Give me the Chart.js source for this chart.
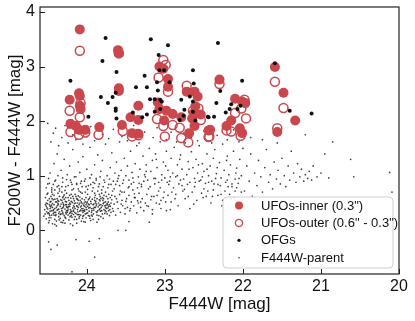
<!DOCTYPE html>
<html lang="en">
<head>
  <meta charset="UTF-8">
  <title>F200W - F444W vs F444W</title>
  <script src="https://cdn.jsdelivr.net/npm/chart.js"></script>
  <style>
    html, body { margin: 0; padding: 0; background: #fff; }
  </style>
</head>
<body>
  <canvas id="myChart" width="415" height="321"></canvas>

  <script>
    // tick values
    const xTicks = [20, 21, 22, 23, 24];
    const yTicks = [0, 1, 2, 3, 4];

    // UFOs, inner aperture (0.3") : [F444W, F200W - F444W]
    const ufoInner = [
      [24.09,3.68],[24.22,2.39],[24.10,2.51],[24.09,2.46],[24.09,2.28],[24.08,2.22],[24.21,1.95],
      [24.14,1.91],[24.10,1.84],[24.02,1.84],[23.84,1.89],[23.60,3.30],[23.59,3.25],[23.59,2.60],
      [23.59,2.55],[23.55,1.93],[23.44,2.07],[23.34,2.28],[23.34,2.02],[23.42,1.78],[23.34,1.77],
      [23.07,3.00],[23.02,2.96],[22.96,2.77],[22.96,2.63],[23.09,2.34],[23.07,2.22],[22.98,2.19],
      [23.01,2.01],[22.90,2.13],[22.79,2.07],[22.72,2.54],[22.62,2.54],[22.58,2.45],[22.61,2.27],
      [22.63,2.15],[22.54,2.12],[22.65,2.05],[22.69,1.78],[22.62,1.91],[22.44,1.83],[22.30,2.76],
      [22.10,2.41],[22.01,2.36],[21.97,2.33],[22.15,2.01],[22.21,1.91],[22.04,1.87],[22.01,1.78],
      [22.42,1.84],[21.59,2.99],[21.48,2.52],[21.33,2.01],[21.56,1.80]
    ];

    // UFOs, outer annulus (0.6" - 0.3")
    const ufoOuter = [
      [24.09,3.29],[24.22,2.19],[24.08,2.33],[24.09,2.07],[24.21,1.80],[24.10,1.75],[24.02,1.79],
      [23.85,1.75],[23.59,3.24],[23.54,1.82],[23.42,1.72],[23.34,1.74],[23.10,2.04],[23.08,2.80],
      [23.02,3.12],[22.99,3.03],[22.96,2.54],[23.02,1.91],[23.00,1.72],[22.90,1.93],[22.81,1.88],
      [22.79,1.69],[22.72,2.65],[22.70,1.61],[22.64,2.19],[22.57,2.23],[22.54,2.02],[22.44,1.71],
      [22.30,2.68],[22.10,2.15],[22.02,2.23],[21.96,2.05],[22.21,1.83],[22.15,1.81],[22.43,1.72],
      [22.03,1.73],[21.98,2.39],[21.59,2.72],[21.48,2.24],[21.56,1.87]
    ];

    // OFGs
    const ofgs = [
      [23.76,3.52],[24.21,2.74],[23.80,3.10],[23.82,2.44],[23.98,2.08],[23.73,2.33],[23.67,2.44],
      [23.63,2.52],[23.63,2.23],[23.63,2.19],[23.62,2.90],[23.62,2.05],[23.41,2.16],[23.37,2.62],
      [23.29,2.07],[23.26,2.83],[23.23,2.62],[23.23,2.12],[23.18,3.50],[23.19,2.40],[23.13,2.40],
      [23.08,3.21],[23.10,2.71],[23.09,2.56],[23.13,2.17],[23.06,2.39],[23.04,2.36],[23.06,2.22],
      [23.07,2.93],[23.01,2.93],[22.96,3.39],[22.94,2.71],[22.79,2.39],[22.81,2.02],[22.75,2.21],
      [22.76,2.10],[22.68,2.45],[22.64,2.93],[22.63,2.69],[22.64,2.36],[22.64,2.17],[22.61,2.01],
      [22.44,2.07],[22.32,3.43],[21.59,3.06],[22.01,2.74],[22.29,2.55],[22.34,2.33],[22.15,2.31],
      [22.17,2.22],[22.22,2.16],[22.07,2.22],[22.03,2.28],[22.45,2.08],[22.37,2.08],[21.40,2.19],
      [21.12,2.14]
    ];

    // F444W parent sample, dense core
    const parentCore = [
      [24.54,0.38],[24.52,0.21],[24.50,0.55],[24.48,0.30],[24.46,0.62],[24.44,0.12],[24.42,0.47],[24.40,0.33],
      [24.38,0.58],[24.36,0.25],[24.34,0.44],[24.32,0.70],[24.30,0.18],[24.28,0.39],[24.26,0.52],[24.24,0.28],
      [24.22,0.64],[24.20,0.35],[24.18,0.09],[24.16,0.49],[24.14,0.31],[24.12,0.57],[24.10,0.22],[24.08,0.43],
      [24.06,0.68],[24.04,0.36],[24.02,0.15],[24.00,0.50],[23.98,0.27],[23.96,0.61],[23.94,0.40],[23.92,0.20],
      [23.90,0.55],[23.88,0.34],[23.86,0.72],[23.84,0.46],[23.82,0.25],[23.80,0.60],[23.78,0.38],[23.76,0.52],
      [23.74,0.30],[23.72,0.66],[23.70,0.44],[23.68,0.56],[23.66,0.35],
      [24.53,0.47],[24.51,0.66],[24.49,0.14],[24.47,0.40],[24.45,0.28],[24.43,0.56],[24.41,0.20],[24.39,0.42],
      [24.37,0.68],[24.35,0.34],[24.33,0.15],[24.31,0.51],[24.29,0.27],[24.27,0.60],[24.25,0.42],[24.23,0.19],
      [24.21,0.48],[24.19,0.74],[24.17,0.29],[24.15,0.40],[24.13,0.13],[24.11,0.63],[24.09,0.35],[24.07,0.52],
      [24.05,0.26],[24.03,0.44],[24.01,0.60],[23.99,0.32],[23.97,0.47],[23.95,0.18],[23.93,0.57],[23.91,0.37],
      [23.89,0.64],[23.87,0.28],[23.85,0.50],[23.83,0.40],[23.81,0.68],[23.79,0.22],[23.77,0.45],[23.75,0.62],
      [23.73,0.41],[23.71,0.27],[23.69,0.50],[23.67,0.72],
      [24.55,0.26],[24.52,0.44],[24.49,0.32],[24.47,0.52],[24.45,0.70],[24.43,0.36],[24.41,0.57],[24.39,0.17],
      [24.37,0.49],[24.35,0.62],[24.33,0.30],[24.31,0.41],[24.29,0.65],[24.27,0.22],[24.25,0.33],[24.23,0.55],
      [24.21,0.38],[24.19,0.24],[24.17,0.58],[24.15,0.66],[24.13,0.45],[24.11,0.29],[24.09,0.50],[24.07,0.17],
      [24.05,0.40],[24.03,0.56],[24.01,0.23],[23.99,0.44],[23.97,0.35],[23.95,0.53],[23.93,0.26],[23.91,0.48],
      [23.89,0.42],[23.87,0.58],[23.85,0.20],[23.83,0.54],[23.81,0.36],[23.79,0.49],[23.77,0.31],[23.75,0.40],
      [23.73,0.58],[23.71,0.47],[23.69,0.33],
      [24.53,0.60],[24.50,0.39],[24.48,0.47],[24.46,0.23],[24.44,0.42],[24.42,0.64],[24.40,0.27],[24.38,0.37],
      [24.36,0.53],[24.34,0.22],[24.32,0.36],[24.30,0.48],[24.28,0.13],[24.26,0.43],[24.24,0.60],[24.22,0.31],
      [24.20,0.53],[24.18,0.41],[24.16,0.20],[24.14,0.62],[24.12,0.38],[24.10,0.47],[24.08,0.28],[24.06,0.58],
      [24.04,0.46],[24.02,0.30],[24.00,0.38],[23.98,0.56],[23.96,0.42],[23.94,0.28],[23.92,0.47],[23.90,0.68],
      [23.88,0.45],[23.86,0.36],[23.84,0.56],[23.82,0.47],[23.80,0.30],[23.78,0.64],[23.76,0.42],[23.74,0.49],
      [23.72,0.36],[23.70,0.60],
      [24.47,0.35],[24.33,0.48],[24.19,0.31],[24.41,0.11],[24.26,0.36],[24.12,0.50],[24.38,0.45],[24.05,0.33],
      [24.29,0.57],[24.44,0.49],[24.15,0.25],[24.50,0.31],[24.22,0.44],[24.08,0.37],[24.36,0.39],[24.02,0.52],
      [24.31,0.33],[24.17,0.45],[24.46,0.43],[24.24,0.39],[24.10,0.29],[24.40,0.52],[24.27,0.47],[24.13,0.58],
      [24.52,0.50],[24.20,0.27],[24.06,0.49],[24.34,0.29],[24.43,0.31],[24.16,0.54],[24.01,0.42],[24.28,0.24],
      [24.48,0.58],[24.23,0.47],[24.09,0.61],[24.37,0.55],[24.11,0.42],[24.04,0.27],[24.30,0.43],[24.45,0.36],
      [24.515,0.34],[24.485,0.23],[24.455,0.46],[24.425,0.38],[24.395,0.29],[24.365,0.47],[24.335,0.56],
      [24.305,0.30],[24.275,0.53],[24.245,0.36],[24.215,0.25],[24.185,0.51],[24.155,0.33],[24.125,0.44],
      [24.095,0.25],[24.065,0.40],[24.035,0.50],[24.005,0.31],[23.975,0.41],[23.945,0.49],[23.915,0.30],
      [23.885,0.53],[23.855,0.43],[23.825,0.35],[23.795,0.55],[23.765,0.36],[23.735,0.47],[23.705,0.38],
      [24.535,0.30],[24.505,0.49],[24.475,0.27],[24.445,0.58],[24.415,0.33],[24.385,0.52],[24.355,0.19],
      [24.325,0.40],[24.295,0.46],[24.265,0.30],[24.235,0.43],[24.205,0.59],[24.175,0.35],[24.145,0.50],
      [24.115,0.34],[24.085,0.55],[24.055,0.22],[24.025,0.38],[23.995,0.52],[23.965,0.26],[23.935,0.36],
      [23.905,0.42],[23.875,0.48],[23.845,0.27],[23.815,0.42],[23.785,0.58],[23.755,0.46],[23.725,0.52],
      [24.47,0.44],[24.42,0.28],[24.37,0.38],[24.32,0.55],[24.27,0.33],[24.22,0.50],[24.17,0.37],[24.12,0.29],
      [24.07,0.45],[24.03,0.35],[23.98,0.48],[23.94,0.33],[23.89,0.50],[23.84,0.38],[23.80,0.45],[23.75,0.34],
      [24.51,0.41],[24.46,0.53],[24.41,0.40],[24.36,0.31],[24.31,0.60],[24.26,0.47],[24.21,0.33],[24.16,0.43],
      [24.11,0.55],[24.06,0.36],[24.01,0.47],[23.97,0.58],[23.92,0.40],[23.87,0.33],[23.83,0.62],[23.78,0.51],
      [23.72,0.44],[23.67,0.40],[23.62,0.58],[23.56,0.48],[23.50,0.53],[23.44,0.40],[23.39,0.67],[23.34,0.50],
      [24.48,0.18],[24.39,0.08],[24.31,0.14],[24.21,0.12],[24.13,0.20],[24.04,0.16],[23.96,0.22],[23.87,0.15],
      [24.44,0.66],[24.35,0.72],[24.26,0.68],[24.18,0.62],[24.08,0.70],[23.99,0.66],[23.90,0.60],[23.82,0.58],
      [24.50,0.68],[24.41,0.74],[24.30,0.62],[24.20,0.66],[24.11,0.76],[24.02,0.70],[23.93,0.72],[23.84,0.66],
      [23.76,0.70],[23.68,0.64],
      [24.52,0.78],[24.48,0.86],[24.45,0.74],[24.41,0.90],[24.38,0.80],[24.35,0.76],[24.31,0.88],[24.28,0.73],
      [24.24,0.82],[24.21,0.92],[24.17,0.76],[24.13,0.86],[24.10,0.72],[24.06,0.80],[24.03,0.90],[23.99,0.75],
      [23.95,0.84],[23.92,0.78],[23.88,0.92],[23.85,0.80],[23.81,0.74],[23.77,0.88],[23.73,0.78],[23.69,0.84],
      [23.65,0.76],[23.61,0.90],[23.57,0.72]
    ];

    // parent sample, the tail towards brighter magnitudes
    const parentMid = [
      [23.65,0.48],[23.64,0.62],[23.63,0.28],[23.61,0.52],[23.60,0.40],[23.58,0.66],[23.57,0.33],[23.55,0.55],
      [23.54,0.45],[23.52,0.70],[23.51,0.30],[23.49,0.58],[23.48,0.42],[23.46,0.64],[23.45,0.36],[23.43,0.52],
      [23.41,0.74],[23.40,0.45],[23.38,0.60],[23.36,0.32],[23.35,0.54],[23.33,0.68],[23.31,0.42],[23.29,0.58],
      [23.27,0.36],[23.25,0.50],[23.23,0.66],[23.21,0.44],[23.18,0.56],[23.16,0.30],[23.14,0.62],[23.11,0.50],
      [23.08,0.72],[23.05,0.40],[23.02,0.60],[22.99,0.52],[22.96,0.64],[22.93,0.38],
      [23.58,0.82],[23.55,0.70],[23.51,0.40],[23.47,0.78],[23.43,0.85],[23.39,0.60],[23.35,0.78],[23.31,0.52],
      [23.27,0.90],[23.23,0.45],[23.19,0.80],[23.16,0.38],[23.13,0.85],[23.10,0.64],[23.07,0.48],[23.04,0.92],
      [23.01,0.70],[22.98,0.36],[22.95,0.84],[22.92,0.52],[22.89,0.78],[22.86,0.66],[22.83,0.45],[22.80,0.92],
      [22.77,0.72],[22.74,0.58],[22.71,0.84],[22.68,0.40],[22.65,0.70],[22.62,0.80],[22.59,0.55],[22.56,0.90],
      [22.53,0.68],[22.50,0.76],[22.47,0.62],[22.44,0.88],[22.41,0.50],[22.38,0.74],[22.35,0.95],[22.32,0.64],
      [22.29,0.82],[22.26,0.55],[22.23,0.72],[22.20,0.92],[22.17,0.66],[22.14,0.85],[22.11,0.60],[22.08,0.78],
      [22.05,0.95],[22.02,0.70],
      [24.49,0.95],[24.43,0.84],[24.37,1.00],[24.32,0.80],[24.26,0.93],[24.19,0.84],[24.14,0.98],[24.08,0.86],
      [24.01,0.80],[23.96,0.96],[23.90,0.86],[23.83,0.98],[23.79,0.80],[23.71,0.94],[23.63,0.84],[23.59,1.00],
      [23.53,0.92],[23.46,0.80],[23.41,0.96],[23.33,0.86],[23.25,0.98],[23.21,0.76],[23.12,0.95],[23.06,0.78],
      [22.97,0.88],[22.91,0.70],[22.84,1.00],[22.78,0.82],[22.70,0.62],[22.61,0.88],[22.52,0.98],[22.45,0.72],
      [22.37,0.85],[22.28,0.66],[22.19,0.80],[22.10,0.72],
      [23.30,0.80],[23.24,1.08],[23.17,0.62],[23.11,1.30],[23.05,0.55],[22.99,1.18],[22.93,0.98],[22.87,0.58],
      [22.81,1.30],[22.75,0.75],[22.69,1.12],[22.63,0.48],[22.57,1.20],[22.51,0.60],[22.46,1.12],[22.39,0.62],
      [22.33,1.15],[22.27,0.45],[22.21,1.28],[22.15,0.58],[22.09,1.05],[22.03,0.50]
    ];

    // parent sample, upper band
    const parentUpper = [
      [24.50,0.85],[24.47,1.05],[24.45,0.78],[24.42,1.22],[24.40,0.92],[24.38,1.40],[24.36,0.82],[24.33,1.10],
      [24.31,0.96],[24.29,1.30],[24.27,0.80],[24.25,1.02],[24.22,1.18],[24.20,0.88],[24.18,1.48],[24.16,0.98],
      [24.13,0.84],[24.11,1.25],[24.09,1.06],[24.07,0.90],[24.05,1.35],[24.02,0.94],[24.00,1.12],[23.98,0.82],
      [23.96,1.52],[23.94,1.02],[23.92,0.88],[23.90,1.20],[23.88,0.95],[23.86,1.38],[23.84,0.85],[23.82,1.08],
      [23.80,1.28],[23.78,0.92],[23.76,1.58],[23.74,1.00],[23.72,0.84],[23.70,1.15],[23.68,1.42],[23.66,0.90],
      [23.64,1.05],[23.62,1.25],[23.60,0.95],[23.58,1.62],[23.56,1.10],[23.54,0.86],[23.52,1.32],[23.50,1.00],
      [23.48,1.18],[23.46,0.92],[23.44,1.45],[23.42,1.06],[23.40,0.88],[23.38,1.22],[23.36,1.55],[23.34,0.98],
      [23.32,1.12],[23.30,0.84],[23.28,1.36],[23.26,1.02],[23.24,1.20],[23.22,0.92],[23.20,1.50],[23.18,1.08],
      [23.16,1.28],[23.14,0.95],[23.12,1.40],[23.10,1.15],[23.08,0.88],[23.06,1.62],[23.04,1.02],[23.02,1.25],
      [23.00,0.96],[22.98,1.45],[22.96,1.10],[22.94,0.90],[22.92,1.32],[22.90,1.05],[22.88,1.52],[22.86,0.98],
      [22.84,1.20],[22.82,0.85],[22.80,1.38],[22.78,1.12],[22.76,0.94],[22.74,1.60],[22.72,1.02],[22.70,1.26],
      [22.68,0.88],[22.66,1.44],[22.64,1.15],[22.62,0.95],[22.60,1.30],[22.58,1.05],[22.56,1.55],[22.54,0.92],
      [22.52,1.22],[22.50,1.08],[22.48,0.86],[22.46,1.40],[22.44,1.00],[22.42,1.18],[22.40,0.90],[22.38,1.32],
      [22.36,1.48],[22.34,1.04],[22.32,0.84],[22.30,1.24],[22.28,0.96],[22.26,1.58],[22.24,1.10],[22.22,0.88],
      [22.20,1.36],[22.18,1.02],[22.16,1.20],[22.14,0.80],[22.12,1.45],[22.10,0.94],[22.08,1.14],[22.06,0.86],
      [22.04,1.30],[22.02,1.00],[22.00,1.50],
      [24.50,1.96],[24.46,1.62],[24.43,1.78],[24.40,1.87],[24.36,1.55],[24.32,1.70],[24.28,1.92],[24.24,1.60],
      [24.18,1.75],[24.14,1.66],[24.05,1.58],[24.00,1.72],[23.95,1.90],[23.90,1.64],[23.80,1.76],[23.72,1.68],
      [23.66,1.85],[23.55,1.72],[23.48,1.64],[23.40,1.92],[23.33,1.60],[23.26,1.80],[23.15,1.70],[23.10,1.88],
      [22.98,1.66],[22.92,1.80],[22.85,1.62],[22.76,1.78],[22.66,1.70],[22.58,1.64],[22.50,1.82],[22.40,1.60],
      [22.33,1.74],[22.20,1.66],[22.12,1.84],[22.05,1.62],[21.90,1.70],[21.75,1.66],[21.56,1.60],[21.20,1.75]
    ];

    // parent sample, bright end and the few blue outliers
    const parentBright = [
      [21.98,0.72],[21.95,1.18],[21.92,0.90],[21.90,1.40],[21.88,0.62],[21.85,1.05],[21.82,0.82],[21.80,1.28],
      [21.77,0.98],[21.75,0.70],[21.72,1.15],[21.70,1.48],[21.67,0.88],[21.65,1.02],[21.62,0.76],[21.60,1.25],
      [21.57,0.94],[21.55,1.10],[21.52,0.85],[21.50,1.32],[21.47,1.00],[21.45,0.80],[21.42,1.18],[21.40,0.92],
      [21.38,1.45],[21.35,1.05],[21.32,0.88],[21.30,1.22],[21.27,0.98],[21.25,1.12],[21.22,0.90],[21.20,1.02],
      [21.17,0.95],[21.15,1.08],[21.12,0.92],[21.10,1.18],[21.05,0.98],[21.00,1.05],[20.95,1.40],[20.90,0.96],
      [20.85,1.62],[20.62,1.30],[20.58,0.98],[20.12,1.06],[20.09,0.70],
      [24.49,-0.21],[24.46,-0.35],[24.38,-0.27],[24.14,-0.17],[23.97,-0.20],[23.90,-0.49],[23.84,-0.15],
      [24.19,-0.76],[23.60,0.00],[23.50,0.00],[23.46,0.16],[23.20,0.15]
    ];

    const red = '#c9474d';
    const family = "'Liberation Sans', Arial, sans-serif";
    const toXY = arr => arr.map(p => ({ x: p[0], y: p[1] }));
    const parentAll = [...parentCore, ...parentMid, ...parentUpper, ...parentBright];

    // frame, inward ticks and the legend box inside the plot
    const framePlugin = {
      id: 'framePlugin',
      afterDatasetsDraw(chart) {
        const { ctx, chartArea: a, scales } = chart;
        ctx.save();
        ctx.strokeStyle = '#222';
        ctx.lineWidth = 1.2;
        ctx.strokeRect(a.left, a.top, a.right - a.left, a.bottom - a.top);
        ctx.lineWidth = 1;
        ctx.beginPath();
        xTicks.forEach(v => {
          const px = Math.round(scales.x.getPixelForValue(v)) + 0.5;
          ctx.moveTo(px, a.bottom);
          ctx.lineTo(px, a.bottom - 5);
        });
        yTicks.forEach(v => {
          const py = Math.round(scales.y.getPixelForValue(v)) + 0.5;
          ctx.moveTo(a.left, py);
          ctx.lineTo(a.left + 5, py);
        });
        ctx.stroke();

        // legend
        const bx = 223, by = 197, bw = 170, bh = 71;
        ctx.beginPath();
        ctx.roundRect(bx, by, bw, bh, 4);
        ctx.fillStyle = 'rgba(255,255,255,0.85)';
        ctx.fill();
        ctx.strokeStyle = '#d0d0d0';
        ctx.stroke();

        ctx.font = '13px ' + family;
        ctx.textBaseline = 'middle';
        ctx.textAlign = 'left';
        chart.data.datasets.forEach((ds, i) => {
          const cy = by + 8.5 + i * 17.4;
          const cx = 239;
          ctx.beginPath();
          ctx.arc(cx, cy, ds.legendRadius, 0, Math.PI * 2);
          if (ds.legendOpen) {
            ctx.lineWidth = 1.3;
            ctx.strokeStyle = ds.borderColor;
            ctx.stroke();
          } else {
            ctx.fillStyle = ds.backgroundColor;
            ctx.fill();
          }
          ctx.fillStyle = '#111';
          ctx.fillText(ds.label, 261, cy + 0.5);
        });
        ctx.restore();
      }
    };

    const ctx = document.getElementById('myChart').getContext('2d');
    const myChart = new Chart(ctx, {
      type: 'scatter',
      data: {
        datasets: [
          {
            label: 'UFOs-inner (0.3")',
            data: toXY(ufoInner),
            backgroundColor: red,
            borderColor: red,
            pointRadius: 5,
            borderWidth: 0,
            order: 2,
            legendRadius: 4,
            legendOpen: false
          },
          {
            label: 'UFOs-outer (0.6" - 0.3")',
            data: toXY(ufoOuter),
            backgroundColor: 'rgba(255,255,255,0)',
            borderColor: red,
            pointRadius: 4.5,
            borderWidth: 1.5,
            order: 1,
            legendRadius: 3.6,
            legendOpen: true
          },
          {
            label: 'OFGs',
            data: toXY(ofgs),
            backgroundColor: '#111',
            borderColor: '#111',
            pointRadius: 2,
            borderWidth: 0,
            order: 0,
            legendRadius: 1.6,
            legendOpen: false
          },
          {
            label: 'F444W-parent',
            data: toXY(parentAll),
            backgroundColor: 'rgba(30,30,30,0.85)',
            borderColor: 'rgba(30,30,30,0.85)',
            pointRadius: 0.85,
            borderWidth: 0,
            order: 3,
            legendRadius: 0.8,
            legendOpen: false
          }
        ]
      },
      options: {
        responsive: false,
        animation: false,
        events: [],
        layout: { padding: { top: 7, right: 16, left: 0, bottom: 0 } },
        plugins: {
          legend: { display: false },
          tooltip: { enabled: false }
        },
        scales: {
          x: {
            type: 'linear',
            reverse: true,
            min: 20,
            max: 24.6,
            afterBuildTicks: s => { s.ticks = xTicks.map(v => ({ value: v })); },
            afterFit: s => { s.height = 47; s.paddingLeft = 0; s.paddingRight = 0; },
            grid: { display: false, drawTicks: false },
            border: { display: false },
            ticks: { padding: 3, color: '#111', font: { size: 16, family: family } },
            title: {
              display: true,
              text: 'F444W [mag]',
              color: '#111',
              font: { size: 17, family: family },
              padding: { top: 0, bottom: 6 }
            }
          },
          y: {
            type: 'linear',
            min: -0.8,
            max: 4.09,
            afterBuildTicks: s => { s.ticks = yTicks.map(v => ({ value: v })); },
            afterFit: s => { s.width = 40; s.paddingTop = 0; s.paddingBottom = 0; },
            grid: { display: false, drawTicks: false },
            border: { display: false },
            ticks: { padding: 5, color: '#111', font: { size: 16, family: family } },
            title: {
              display: true,
              text: 'F200W - F444W [mag]',
              color: '#111',
              font: { size: 17, family: family },
              padding: { top: 5, bottom: 0 }
            }
          }
        }
      },
      plugins: [framePlugin]
    });
  </script>
</body>
</html>
